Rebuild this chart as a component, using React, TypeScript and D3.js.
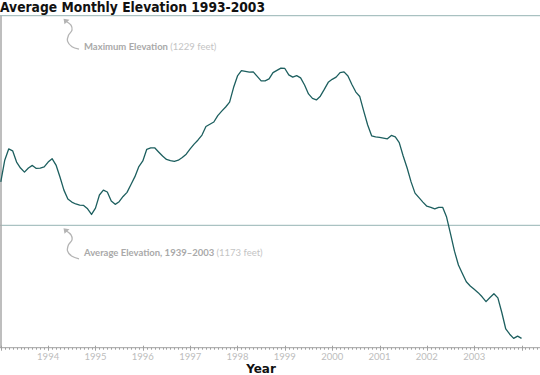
import React from "react";
import * as d3 from "d3";

const startYear = 1993;
const yearTicks = [1994, 1995, 1996, 1997, 1998, 1999, 2000, 2001, 2002, 2003];
// Monthly average elevation of the lake (feet), Jan 1993 onward
const elevation = [
  1184.6, 1190.4, 1193.4, 1192.9, 1189.9, 1188.3, 1187.2, 1188.3, 1189.0, 1188.2, 1188.3, 1188.6,
  1189.9, 1190.8, 1189.1, 1185.9, 1182.4, 1180.0, 1179.2, 1178.7, 1178.4, 1178.3, 1177.4, 1175.9,
  1177.6, 1181.1, 1182.4, 1181.9, 1179.5, 1178.6, 1179.3, 1180.7, 1181.8, 1183.9, 1186.0, 1188.7,
  1190.2, 1193.3, 1193.7, 1193.7, 1192.6, 1191.5, 1190.6, 1190.3, 1190.1, 1190.4, 1191.1, 1192.0,
  1193.4, 1194.7, 1195.8, 1197.1, 1199.4, 1200.0, 1200.6, 1202.3, 1203.5, 1204.6, 1205.9, 1209.8,
  1212.9, 1214.3, 1214.1, 1213.9, 1214.0, 1212.8, 1211.6, 1211.6, 1212.1, 1213.8, 1214.4, 1215.0,
  1214.9, 1213.2, 1212.6, 1213.0, 1212.4, 1210.5, 1208.1, 1206.9, 1206.5, 1207.5, 1209.3, 1211.2,
  1212.0, 1212.6, 1213.8, 1214.0, 1212.9, 1210.6, 1208.6, 1207.4, 1203.5, 1199.8, 1196.9, 1196.6,
  1196.5, 1196.3, 1196.1, 1197.0, 1196.6, 1195.1, 1191.5, 1188.3, 1184.6, 1181.6, 1180.4, 1179.2,
  1178.1, 1177.8, 1177.4, 1177.8, 1177.8, 1175.2, 1170.7, 1166.1, 1162.4, 1160.1, 1157.9, 1156.8,
  1155.9, 1155.0, 1153.9, 1152.6, 1153.7, 1154.7, 1153.6, 1149.7, 1145.3, 1143.9, 1142.8, 1143.4,
  1142.8,
];
const maxElevation = 1229;
const avgElevation = 1173;
const yMin = 1140.3;

const W = 540;
const H = 375;
const font = "'DejaVu Sans', Verdana, sans-serif";
const lightFont = "Lato, 'Open Sans', sans-serif";

export default function App() {
  const x = d3.scaleLinear().domain([startYear, 2004.39]).range([0.8, W]);
  const y = d3.scaleLinear().domain([avgElevation, maxElevation]).range([225.3, 15.7]);
  const axisY = y(yMin);

  const line = d3
    .line<number>()
    .x((_, i) => x(startYear + i / 12))
    .y((d) => y(d))
    .curve(d3.curveLinear);

  const months = d3.range(0, Math.floor((2004.39 - startYear) * 12) + 1);

  const arrow = (ty: number) => {
    const tx = 64;
    const pts: [number, number][] = [
      [tx + 2, ty + 2],
      [tx + 7, ty + 6],
      [tx + 8, ty + 11],
      [tx + 4.5, ty + 16],
      [tx + 3.5, ty + 22],
      [tx + 8, ty + 27.5],
      [tx + 15, ty + 30],
    ];
    const p = d3.line().curve(d3.curveCatmullRom)(pts) || "";
    return (
      <g>
        <path d={p} fill="none" stroke="#b4b4b4" strokeWidth={1.3} />
        <path
          d={`M${tx - 0.5},${ty - 0.5} L${tx + 5.5},${ty + 0.5} L${tx + 0.5},${ty + 5} Z`}
          fill="#b4b4b4"
        />
      </g>
    );
  };

  return (
    <svg
      width={W}
      height={H}
      style={{ position: "absolute", left: 0, top: 0, display: "block", background: "#fff" }}
    >
      <text x={0} y={11.5} fontFamily={font} fontSize={13.5} fontWeight={600} fill="#111" textLength={265} lengthAdjust="spacingAndGlyphs">
        Average Monthly Elevation 1993-2003
      </text>

      {/* reference lines */}
      <line x1={0} x2={W} y1={y(maxElevation)} y2={y(maxElevation)} stroke="#95b3b3" strokeWidth={1} />
      <line x1={0} x2={W} y1={y(avgElevation)} y2={y(avgElevation)} stroke="#95b3b3" strokeWidth={1} />

      {/* left axis line */}
      <line x1={1} x2={1} y1={y(maxElevation)} y2={axisY} stroke="#a8a8a8" strokeWidth={1.5} />

      {/* bottom axis */}
      <line x1={0} x2={W} y1={axisY} y2={axisY} stroke="#a0a0a0" strokeWidth={1} />
      {months.map((m) => {
        const xx = Math.round(x(startYear + m / 12)) + 0.5;
        const major = m % 12 === 0;
        return (
          <line
            key={m}
            x1={xx}
            x2={xx}
            y1={major ? axisY - 2 : axisY}
            y2={major ? axisY + 3 : axisY + 2}
            stroke="#a0a0a0"
            strokeWidth={1}
          />
        );
      })}
      {yearTicks.map((yr) => (
        <text
          key={yr}
          x={x(yr)}
          y={axisY + 12}
          textAnchor="middle"
          fontFamily={lightFont}
          fontSize={9.5}
          fill="#bdbdbd"
        >
          {yr}
        </text>
      ))}
      <text x={261} y={373} textAnchor="middle" fontFamily={font} fontSize={12} fontWeight="bold" fill="#111">
        Year
      </text>

      {/* data line */}
      <path d={line(elevation) || ""} fill="none" stroke="#1d5f5f" strokeWidth={1.3} strokeLinejoin="round" />

      {/* annotations */}
      {arrow(y(maxElevation) + 3.5)}
      <text x={84} y={y(maxElevation) + 34.5} fontFamily={lightFont} fontSize={9.5} fill="#a9a9a9">
        <tspan fontWeight={700}>Maximum Elevation </tspan>
        <tspan fill="#c4c4c4">(1229 feet)</tspan>
      </text>
      {arrow(y(avgElevation) + 3.5)}
      <text x={84} y={y(avgElevation) + 31} fontFamily={lightFont} fontSize={9.5} fill="#a9a9a9">
        <tspan fontWeight={700}>Average Elevation, 1939–2003 </tspan>
        <tspan fill="#c4c4c4">(1173 feet)</tspan>
      </text>
    </svg>
  );
}
